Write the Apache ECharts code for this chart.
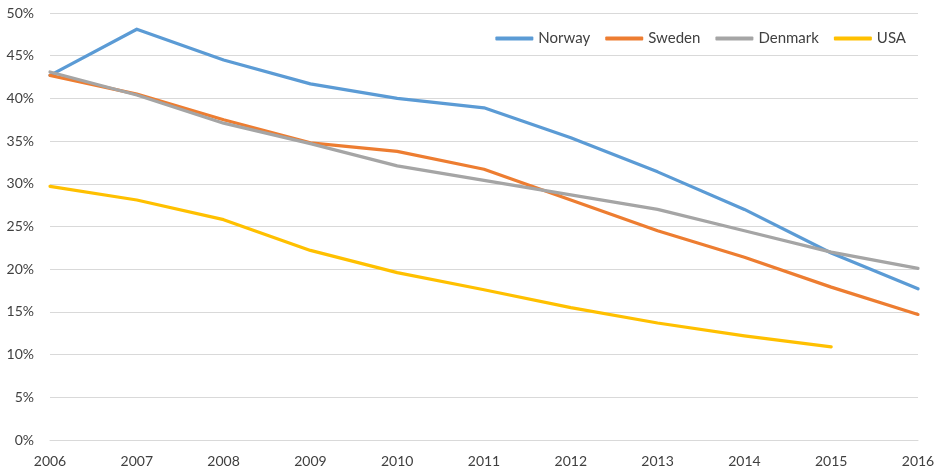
<!DOCTYPE html>
<html>
<head>
<meta charset="utf-8">
<script src="https://cdn.jsdelivr.net/npm/echarts@6/dist/echarts.min.js"></script>
<style>
html, body { margin: 0; padding: 0; background: #fff; }
#main { width: 938px; height: 472px; }
</style>
</head>
<body>
<div id="main"></div>
<script>
// 数据
var years = ['2006', '2007', '2008', '2009', '2010', '2011', '2012', '2013', '2014', '2015', '2016'];
var norway = [42.7, 48.1, 44.5, 41.7, 40.0, 38.9, 35.4, 31.4, 27.0, 21.9, 17.7];
var sweden = [42.7, 40.5, 37.5, 34.8, 33.8, 31.7, 28.1, 24.5, 21.4, 17.9, 14.7];
var denmark = [43.1, 40.4, 37.1, 34.7, 32.1, 30.4, 28.7, 27.0, 24.5, 22.0, 20.1];
var usa = [29.7, 28.1, 25.8, 22.2, 19.6, 17.6, 15.5, 13.7, 12.2, 10.9, null];

var fontName = 'Lato, "Open Sans", sans-serif';

function makeLine(name, data, color) {
    return {
        name: name,
        type: 'line',
        data: data,
        showSymbol: false,
        symbol: 'none',
        connectNulls: false,
        lineStyle: { color: color, width: 3.2, cap: 'round', join: 'round' },
        itemStyle: { color: color }
    };
}

var myChart = echarts.init(document.getElementById('main'));
var option = {
    animation: false,
    backgroundColor: '#fff',
    legend: {
        top: 26,
        right: 27,
        itemWidth: 38,
        itemHeight: 4,
        itemGap: 15,
        icon: 'roundRect',
        textStyle: { color: '#404040', fontSize: 15, fontFamily: fontName },
        data: ['Norway', 'Sweden', 'Denmark', 'USA']
    },
    grid: {
        left: 50,
        right: 20,
        top: 13,
        bottom: 32,
        containLabel: false
    },
    xAxis: {
        type: 'category',
        boundaryGap: false,
        data: years,
        axisLine: { lineStyle: { color: '#D9D9D9', width: 1 } },
        axisTick: { show: false },
        axisLabel: { color: '#404040', fontSize: 14, fontFamily: fontName, margin: 14 }
    },
    yAxis: {
        type: 'value',
        min: 0,
        max: 50,
        interval: 5,
        axisLine: { show: false },
        axisTick: { show: false },
        splitLine: { lineStyle: { color: '#D9D9D9', width: 1 } },
        axisLabel: {
            color: '#404040',
            fontSize: 14,
            fontFamily: fontName,
            margin: 16,
            formatter: '{value}%'
        }
    },
    series: [
        makeLine('Norway', norway, '#5B9BD5'),
        makeLine('Sweden', sweden, '#ED7D31'),
        makeLine('Denmark', denmark, '#A5A5A5'),
        makeLine('USA', usa, '#FFC000')
    ]
};
myChart.setOption(option);
</script>
</body>
</html>
